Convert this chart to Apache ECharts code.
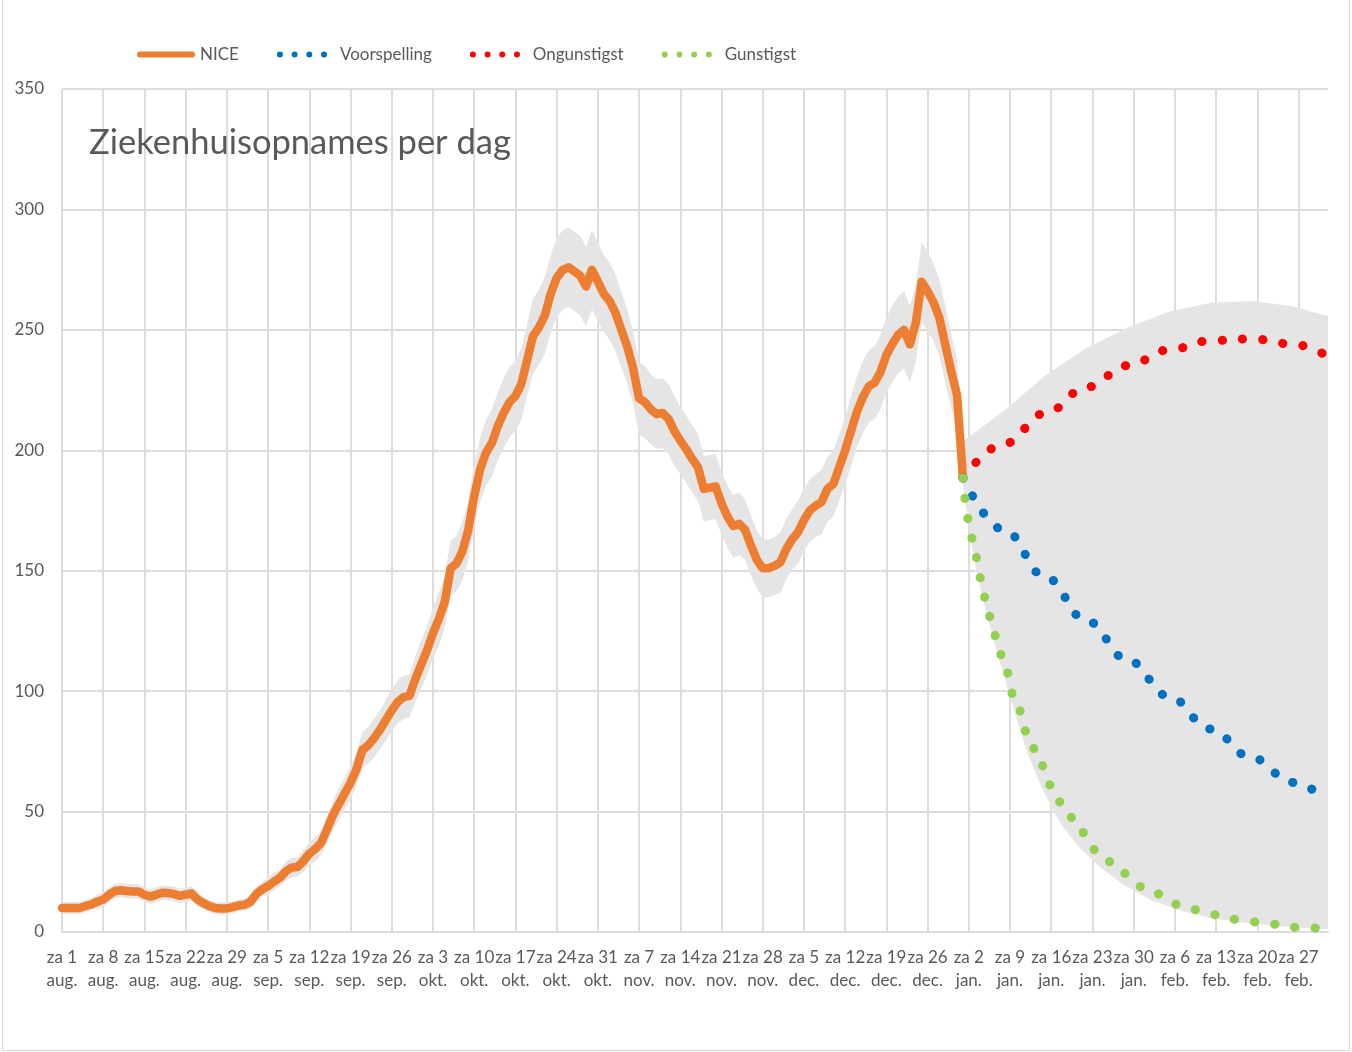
<!DOCTYPE html>
<html>
<head>
<meta charset="utf-8">
<script src="https://cdn.jsdelivr.net/npm/echarts@6/dist/echarts.min.js"></script>
<style>
html,body{margin:0;padding:0;background:#fff;}
#chart{width:1352px;height:1052px;}
#frame{position:absolute;left:2px;top:-1px;width:1348px;height:1052px;border:1px solid #d9d9d9;box-sizing:border-box;pointer-events:none;}
</style>
</head>
<body>
<div id="chart"></div>
<div id="frame"></div>
<script>
// Weekly tick labels (Saturdays), one every 7 days starting at day 0 = 1 aug.
const tickLabels = ['za 1\naug.','za 8\naug.','za 15\naug.','za 22\naug.','za 29\naug.','za 5\nsep.','za 12\nsep.','za 19\nsep.','za 26\nsep.','za 3\nokt.','za 10\nokt.','za 17\nokt.','za 24\nokt.','za 31\nokt.','za 7\nnov.','za 14\nnov.','za 21\nnov.','za 28\nnov.','za 5\ndec.','za 12\ndec.','za 19\ndec.','za 26\ndec.','za 2\njan.','za 9\njan.','za 16\njan.','za 23\njan.','za 30\njan.','za 6\nfeb.','za 13\nfeb.','za 20\nfeb.','za 27\nfeb.'];

// NICE daily hospital admissions, day 0 (1 aug) .. day 153 (1 jan)
const niceValues = [
  10,10,10,10,10.8,11.5,12.6,13.5,15.5,17,
  17.3,17,16.8,16.8,15.5,14.7,15.5,16.3,16.2,15.8,
  15,15.5,16,13.5,12,10.8,10,9.8,9.8,10.3,
  11,11.3,12.5,15.8,17.7,19.1,20.9,22.5,25.2,26.8,
  27,29.5,32.5,34.5,37,42.5,48.5,53,57.5,62,
  67.5,75.5,77.5,80.5,84,88,92,95.5,97.5,98,
  105,111,117,124,130,137,151,153,158,167,
  181,192,199,203,210,215.5,220,222.5,227.5,237.5,
  247.5,251,256,265,271.5,274.8,276,274.3,272.5,268,
  275,270,265,262,257,250,243,234,221.5,220,
  217,215,215.5,213,208,204,200.5,196.5,193,184,
  184.5,185,178,172.5,168.5,169.5,167,160.5,154.5,151,
  151,152,153.5,159,163,166,171,175,177,178.5,
  184,186,193,200,208,216,222,226.5,228,232.5,
  239.5,244,248,250,244,253,270,266,261.5,255,
  244,233,223,188.5
];

// Half-width of the grey uncertainty band around NICE, day 0 .. day 152
const niceMargin = [
  2.5,2.5,2.5,2.5,2.5,2.5,3,3,
  3,3,3,3,3,3,3,3,3,3,3,3,3,3,3,
  3,2.5,2.5,2.5,2.5,2.5,2.5,2.5,2.5,3,
  3,3,3.5,3.5,3.5,
  4,4,4,4.5,4.5,5,5,
  5.5,6,6.5,6.5,7,7,
  7.5,7.5,8,8,8.5,8.5,9,9,9,
  9.5,10,10,10.5,11,11,
  11.5,11.5,12,12.5,
  13,13.5,13.5,14,14,14.5,14.5,14.5,15,
  15,15.5,15.5,16,16,16.5,16.5,16.5,16.5,16.5,16.5,16.5,16.5,16,16,16,15.5,15.5,15,
  15,15,14.5,14.5,14.5,14.5,14.5,14,14,14,14,
  13.5,13.5,13.5,13,13,13,13,12.5,12.5,12,12,
  12,12,12.5,12.5,12.5,13,13,13,13,13.5,
  13.5,13.5,14,14,14.5,14.5,15,15,15,15.5,
  15.5,16,16,16,16,16,16.5,16.5,16,16,16,15.5,15
];

// Forecast scenarios (day index)
const trendDays    = [153,160,167,174,181,188,195,202,209,215];
const voorspelling = [188.5,166.9,147.4,129.2,112.9,97.8,84.3,72.4,62.1,54.5];
const ongunstigst  = [188.5,202.7,215.4,226.2,235.2,241.7,245.5,246.3,244.1,239];
const bandUpper    = [203.6,216.5,231,242.5,251,257.5,261.3,262,259.8,255.7];

const gunstigstDays = [153,154,155,156,157,158,159,160,162,164,166,168,170,173,176,180,185,190,195,200,205,210,215];
const gunstigst     = [188.5,170.7,157.5,147,136.8,126.7,118.6,110.5,95.5,82.5,70.6,60.8,52.6,41.7,33.2,24.5,16.5,11.2,7.3,5.1,3.3,1.95,1.1];
const bandLower     = [186,167,153.5,142,132,123.5,114.5,106,89.5,74,62,52,43.5,34.5,27.5,20,13.2,8.8,5.8,4,2.8,1.8,1.2];

const FONT = 'Lato';
const TXT = '#595959';
const GRID = '#dcdcdc';

const pairs = (days, vals) => days.map((d, i) => [d, vals[i]]);

const dotsIcon = 'path://M0,3a3,3 0 1,0 6,0a3,3 0 1,0 -6,0Z M14.7,3a3,3 0 1,0 6,0a3,3 0 1,0 -6,0Z M29.4,3a3,3 0 1,0 6,0a3,3 0 1,0 -6,0Z M44.1,3a3,3 0 1,0 6,0a3,3 0 1,0 -6,0Z M57.9,3 L58,3 L58,3.1Z';
const lineIcon = 'path://M3,0 L55,0 A3,3 0 0 1 55,6 L3,6 A3,3 0 0 1 3,0Z';

const chart = echarts.init(document.getElementById('chart'), null, {renderer: 'canvas'});

const option = {
  backgroundColor: '#ffffff',
  animation: false,
  title: {
    text: 'Ziekenhuisopnames per dag',
    left: 89, top: 125, padding: 0,
    textStyle: {fontFamily: FONT, fontSize: 34.5, fontWeight: 'normal', color: TXT}
  },
  legend: {
    left: 137, top: 46, padding: 0,
    itemWidth: 58, itemHeight: 6, itemGap: 38,
    symbolKeepAspect: true,
    itemStyle: {borderWidth: 0},
    textStyle: {fontFamily: FONT, fontSize: 17, color: TXT},
    data: [
      {name: 'NICE', icon: lineIcon},
      {name: 'Voorspelling', icon: dotsIcon},
      {name: 'Ongunstigst', icon: dotsIcon},
      {name: 'Gunstigst', icon: dotsIcon}
    ]
  },
  grid: {left: 62, right: 24, top: 89, bottom: 120, containLabel: false},
  xAxis: {
    type: 'value', min: 0, max: 215, interval: 7,
    axisLine: {show: true, lineStyle: {color: GRID, width: 2}},
    axisTick: {show: false},
    splitLine: {show: true, showMaxLine: false, lineStyle: {color: GRID, width: 2}},
    axisLabel: {
      fontFamily: FONT, fontSize: 17, color: TXT, lineHeight: 23, margin: 14,
      showMaxLabel: false,
      formatter: v => (v % 7 === 0 && tickLabels[v / 7]) ? tickLabels[v / 7] : ''
    }
  },
  yAxis: {
    type: 'value', min: 0, max: 350, interval: 50,
    axisLine: {show: false}, axisTick: {show: false},
    splitLine: {show: true, lineStyle: {color: GRID, width: 2}},
    axisLabel: {fontFamily: FONT, fontSize: 17, color: TXT, margin: 18}
  },
  series: [
    {
      name: 'band', type: 'custom', silent: true, clip: false, z: 1,
      data: [[0, 0]],
      renderItem: function (params, api) {
        const pts = [];
        const n = niceMargin.length;
        for (let i = 0; i < n; i++) pts.push(api.coord([i, niceValues[i] + niceMargin[i]]));
        for (let j = 0; j < trendDays.length; j++) pts.push(api.coord([trendDays[j], bandUpper[j]]));
        for (let j = gunstigstDays.length - 1; j >= 0; j--) pts.push(api.coord([gunstigstDays[j], bandLower[j]]));
        for (let i = n - 1; i >= 0; i--) pts.push(api.coord([i, niceValues[i] - niceMargin[i]]));
        return {type: 'polygon', shape: {points: pts}, style: {fill: '#e5e5e5'}};
      }
    },
    {
      name: 'NICE', type: 'line', z: 3,
      data: niceValues.map((v, i) => [i, v]),
      symbol: 'none', showSymbol: false,
      itemStyle: {color: '#ED7D31'},
      lineStyle: {color: '#ED7D31', width: 8.5, cap: 'round', join: 'round'}
    },
    {
      name: 'Voorspelling', type: 'line', z: 4,
      data: pairs(trendDays, voorspelling),
      symbol: 'none', showSymbol: false, smooth: 0.4, smoothMonotone: 'x',
      itemStyle: {color: '#0070C0'},
      lineStyle: {color: '#0070C0', width: 9, type: [0.3, 20], cap: 'round'}
    },
    {
      name: 'Ongunstigst', type: 'line', z: 4,
      data: pairs(trendDays, ongunstigst),
      symbol: 'none', showSymbol: false, smooth: 0.4, smoothMonotone: 'x',
      itemStyle: {color: '#FF0000'},
      lineStyle: {color: '#FF0000', width: 9, type: [0.3, 20], cap: 'round'}
    },
    {
      name: 'Gunstigst', type: 'line', z: 4,
      data: pairs(gunstigstDays, gunstigst),
      symbol: 'none', showSymbol: false, smooth: 0.4, smoothMonotone: 'x',
      itemStyle: {color: '#92D050'},
      lineStyle: {color: '#92D050', width: 9, type: [0.3, 20], cap: 'round'}
    }
  ]
};
chart.setOption(option);
</script>
</body>
</html>
